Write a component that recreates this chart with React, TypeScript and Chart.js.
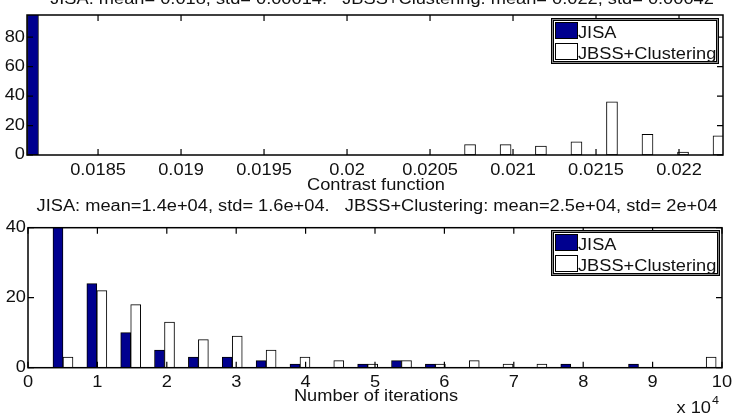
import React, { useEffect, useRef } from "react";
import { Chart, registerables } from "chart.js";

Chart.register(...registerables);

// ---------- DATA: top histogram (Contrast function) ----------
const topBinCenters = [
  0.018141, 0.018355, 0.018569, 0.018783, 0.018997, 0.019211, 0.019424, 0.019638,
  0.019852, 0.020066, 0.02028, 0.020494, 0.020708, 0.020922, 0.021135, 0.021349,
  0.021563, 0.021777, 0.021991, 0.022205,
];
const topJisa = [100, 0, 0, 0, 0, 0, 0, 0, 0, 0, 0, 0, 0, 0, 0, 0, 0, 0, 0, 0];
const topJbss = [0, 0, 0, 0, 0, 0, 0, 0, 0, 0, 0, 0, 7, 7, 6, 9, 36, 14, 2, 13];
const topXTicks = [0.0185, 0.019, 0.0195, 0.02, 0.0205, 0.021, 0.0215, 0.022];
const topXTickLabels = ["0.0185", "0.019", "0.0195", "0.02", "0.0205", "0.021", "0.0215", "0.022"];
const topYTicks = [0, 20, 40, 60, 80];
const topXMin = 0.018072;
const topXMax = 0.022265;
const topYMax = 95;
const topTitle = "JISA: mean= 0.018, std= 0.00014.   JBSS+Clustering: mean= 0.022, std= 0.00042";
const topXLabel = "Contrast function";

// ---------- DATA: bottom histogram (Number of iterations, x 10^4) ----------
const botBinCenters = [
  0.504, 0.992, 1.48, 1.967, 2.455, 2.943, 3.431, 3.919, 4.406, 4.894,
  5.382, 5.87, 6.358, 6.845, 7.333, 7.821, 8.309, 8.797, 9.284, 9.772,
];
const botJisa = [46, 24, 10, 5, 3, 3, 2, 1, 0, 1, 2, 1, 0, 0, 0, 1, 0, 1, 0, 0];
const botJbss = [3, 22, 18, 13, 8, 9, 5, 3, 2, 1, 2, 1, 2, 1, 1, 0, 0, 0, 0, 3];
const botXTicks = [0, 1, 2, 3, 4, 5, 6, 7, 8, 9, 10];
const botXTickLabels = ["0", "1", "2", "3", "4", "5", "6", "7", "8", "9", "10"];
const botYTicks = [0, 20, 40];
const botXMin = 0;
const botXMax = 10;
const botYMax = 40;
const botTitle = "JISA: mean=1.4e+04, std= 1.6e+04.   JBSS+Clustering: mean=2.5e+04, std= 2e+04";
const botXLabel = "Number of iterations";

const seriesNames = ["JISA", "JBSS+Clustering"];
const JISA_COLOR = "#00008f";
const FONT = '"Liberation Sans", Arial, Helvetica, sans-serif';
const SX = 1.14;

function sText(
  ctx: CanvasRenderingContext2D,
  text: string,
  x: number,
  y: number,
  size: number,
  align: "left" | "center" | "right",
  baseline: CanvasTextBaseline = "alphabetic"
) {
  ctx.save();
  ctx.font = `${size}px ${FONT}`;
  ctx.textBaseline = baseline;
  ctx.textAlign = "left";
  const w = ctx.measureText(text).width * SX;
  const left = align === "left" ? x : align === "center" ? x - w / 2 : x - w;
  ctx.translate(left, y);
  ctx.scale(SX, 1);
  ctx.fillStyle = "#111";
  ctx.fillText(text, 0, 0);
  ctx.restore();
}

type Spec = {
  title: string;
  titleX: number;
  titleY: number;
  xTicks: number[];
  xTickLabels: string[];
  yTicks: number[];
  tickLabelY: number;
  xLabel: string;
  xLabelY: number;
  legend: { x: number; y: number; w: number; h: number };
  exponent?: { x: number; y: number };
};

function makePlugin(spec: Spec) {
  return {
    id: "matlabFrame",
    afterDraw(chart: any) {
      const ctx: CanvasRenderingContext2D = chart.ctx;
      const a = chart.chartArea;
      const xs = chart.scales.x;
      const ys = chart.scales.y;
      ctx.save();
      // frame
      ctx.strokeStyle = "#000";
      ctx.lineWidth = 1.5;
      ctx.strokeRect(a.left, a.top, a.right - a.left, a.bottom - a.top);
      // ticks inward
      const tl = 6;
      ctx.lineWidth = 1.2;
      ctx.beginPath();
      spec.xTicks.forEach((v) => {
        const px = xs.getPixelForValue(v);
        ctx.moveTo(px, a.bottom);
        ctx.lineTo(px, a.bottom - tl);
        ctx.moveTo(px, a.top);
        ctx.lineTo(px, a.top + tl);
      });
      spec.yTicks.forEach((v) => {
        const py = ys.getPixelForValue(v);
        ctx.moveTo(a.left, py);
        ctx.lineTo(a.left + tl, py);
        ctx.moveTo(a.right, py);
        ctx.lineTo(a.right - tl, py);
      });
      ctx.stroke();
      // tick labels
      spec.xTicks.forEach((v, i) => {
        sText(ctx, spec.xTickLabels[i], xs.getPixelForValue(v), spec.tickLabelY, 16, "center");
      });
      spec.yTicks.forEach((v) => {
        sText(ctx, String(v), a.left - 2, ys.getPixelForValue(v), 16, "right", "middle");
      });
      // labels
      sText(ctx, spec.xLabel, (a.left + a.right) / 2 + 1, spec.xLabelY, 16, "center");
      sText(ctx, spec.title, spec.titleX, spec.titleY, 16, "center");
      if (spec.exponent) {
        sText(ctx, "x 10", spec.exponent.x, spec.exponent.y, 16, "right");
        sText(ctx, "4", spec.exponent.x + 1, spec.exponent.y - 9, 11, "left");
      }
      // legend
      const L = spec.legend;
      ctx.fillStyle = "#fff";
      ctx.fillRect(L.x, L.y, L.w, L.h);
      ctx.strokeStyle = "#000";
      ctx.lineWidth = 1;
      ctx.strokeRect(L.x + 0.5, L.y + 0.5, L.w - 1, L.h - 1);
      ctx.strokeStyle = "#888";
      ctx.lineWidth = 1;
      ctx.strokeRect(L.x + 1.5, L.y + 1.5, L.w - 3, L.h - 3);
      ctx.strokeStyle = "#000";
      ctx.lineWidth = 1;
      ctx.strokeRect(L.x + 2.5, L.y + 2.5, L.w - 5, L.h - 5);
      const sw = 22;
      const sh = 16;
      const rows = [L.y + 4.5, L.y + 25.5];
      seriesNames.forEach((name, i) => {
        const ry = rows[i];
        ctx.fillStyle = i === 0 ? JISA_COLOR : "#fff";
        ctx.fillRect(L.x + 4.5, ry, sw, sh);
        ctx.strokeStyle = "#000";
        ctx.lineWidth = 1;
        ctx.strokeRect(L.x + 4.5, ry, sw, sh);
        sText(ctx, name, L.x + 27, ry + sh - 1, 16, "left");
      });
      ctx.restore();
    },
  };
}

function buildConfig(
  centers: number[],
  jisa: number[],
  jbss: number[],
  xMin: number,
  xMax: number,
  yMax: number,
  thickness: number,
  padding: { left: number; right: number; top: number; bottom: number },
  spec: Spec
): any {
  return {
    type: "bar",
    data: {
      datasets: [
        {
          label: seriesNames[0],
          data: centers.map((c, i) => ({ x: c, y: jisa[i] })),
          backgroundColor: JISA_COLOR,
          borderColor: "#000",
          borderWidth: 1,
          borderSkipped: false,
          barThickness: thickness,
        },
        {
          label: seriesNames[1],
          data: centers.map((c, i) => ({ x: c, y: jbss[i] })),
          backgroundColor: "#fff",
          borderColor: "#000",
          borderWidth: 1,
          borderSkipped: false,
          barThickness: thickness,
        },
      ],
    },
    options: {
      animation: false,
      responsive: false,
      maintainAspectRatio: false,
      events: [],
      layout: { padding },
      scales: {
        x: { type: "linear", min: xMin, max: xMax, display: false, offset: false },
        y: { type: "linear", min: 0, max: yMax, display: false },
      },
      plugins: {
        legend: { display: false },
        tooltip: { enabled: false },
        title: { display: false },
      },
    },
    plugins: [makePlugin(spec)],
  };
}

export default function App() {
  const topRef = useRef<HTMLCanvasElement | null>(null);
  const botRef = useRef<HTMLCanvasElement | null>(null);

  useEffect(() => {
    if (!topRef.current || !botRef.current) return;
    const topChart = new Chart(
      topRef.current,
      buildConfig(
        topBinCenters,
        topJisa,
        topJbss,
        topXMin,
        topXMax,
        topYMax,
        11,
        { left: 27, right: 12, top: 25, bottom: 40 },
        {
          title: topTitle,
          titleX: 382,
          titleY: 13.5,
          xTicks: topXTicks,
          xTickLabels: topXTickLabels,
          yTicks: topYTicks,
          tickLabelY: 185,
          xLabel: topXLabel,
          xLabelY: 200,
          legend: { x: 551, y: 28, w: 168, h: 46 },
        }
      )
    );
    const botChart = new Chart(
      botRef.current,
      buildConfig(
        botBinCenters,
        botJisa,
        botJbss,
        botXMin,
        botXMax,
        botYMax,
        10,
        { left: 28, right: 13, top: 32.7, bottom: 49.3 },
        {
          title: botTitle,
          titleX: 377,
          titleY: 16,
          xTicks: botXTicks,
          xTickLabels: botXTickLabels,
          yTicks: botYTicks,
          tickLabelY: 192,
          xLabel: botXLabel,
          xLabelY: 206,
          legend: { x: 551, y: 35, w: 169, h: 46 },
          exponent: { x: 711, y: 217.5 },
        }
      )
    );
    return () => {
      topChart.destroy();
      botChart.destroy();
    };
  }, []);

  return (
    <div
      style={{
        position: "fixed",
        left: 0,
        top: 0,
        width: 735,
        height: 417,
        overflow: "hidden",
        background: "#fff",
      }}
    >
      <canvas
        ref={topRef}
        width={735}
        height={205}
        style={{ position: "absolute", left: 0, top: -10, width: 735, height: 205 }}
      />
      <canvas
        ref={botRef}
        width={735}
        height={222}
        style={{ position: "absolute", left: 0, top: 195, width: 735, height: 222 }}
      />
    </div>
  );
}
